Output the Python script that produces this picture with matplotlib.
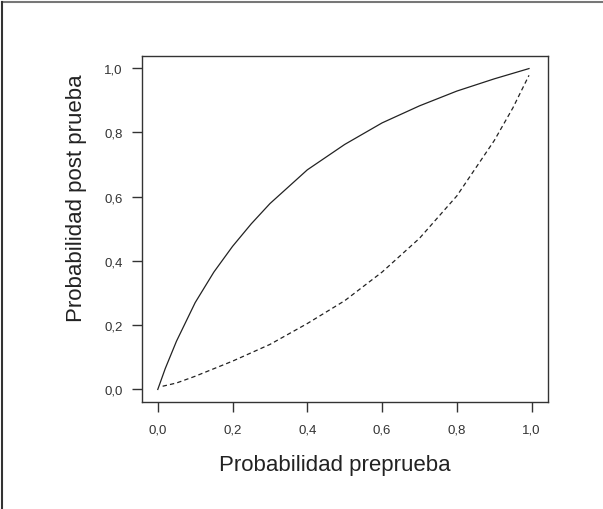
import matplotlib
matplotlib.use("Agg")
import matplotlib.pyplot as plt
from matplotlib.lines import Line2D

plt.rcParams['font.family'] = ['Liberation Sans Narrow', 'Liberation Sans', 'DejaVu Sans']

# curva para prueba positiva (línea continua)
pre_pos = [0.0, 0.02, 0.05, 0.10, 0.15, 0.20, 0.25, 0.30, 0.40, 0.50, 0.60, 0.70, 0.80, 0.90, 0.993]
post_pos = [0.0, 0.065, 0.15, 0.27, 0.365, 0.445, 0.515, 0.578, 0.683, 0.762, 0.829, 0.882, 0.928, 0.966, 0.998]

# curva para prueba negativa (línea discontinua)
pre_neg = [0.013, 0.05, 0.10, 0.20, 0.30, 0.40, 0.50, 0.60, 0.70, 0.80, 0.90, 0.95, 0.993]
post_neg = [0.01, 0.02, 0.041, 0.088, 0.14, 0.205, 0.276, 0.365, 0.47, 0.602, 0.774, 0.876, 0.977]

ticks = [0.0, 0.2, 0.4, 0.6, 0.8, 1.0]
tick_labels = ['0,0', '0,2', '0,4', '0,6', '0,8', '1,0']

W, H = 603, 510
fig = plt.figure(figsize=(W / 100, H / 100), dpi=100)
L, R, T, B = 141.7, 547.7, 56.7, 403.3
ax = fig.add_axes([L / W, 1 - B / H, (R - L) / W, (B - T) / H])

ax.plot(pre_pos, post_pos, color='#222222', lw=0.9)
ax.plot(pre_neg, post_neg, color='#222222', lw=0.9, linestyle=(0, (3.5, 2.5)))

ax.set_xlim(-0.043, 1.043)
ax.set_ylim(-0.040, 1.038)
ax.set_xticks(ticks)
ax.set_xticklabels(tick_labels)
ax.set_yticks(ticks)
ax.set_yticklabels(tick_labels)
ax.tick_params(direction='out', length=7.5, width=1.0, colors='#333333',
               labelcolor='#333333', labelsize=9.5)
ax.tick_params(axis='x', pad=8)
ax.tick_params(axis='y', pad=6)
for s in ax.spines.values():
    s.set_color('#333333')
    s.set_linewidth(1.0)

ax.set_xlabel('Probabilidad preprueba', fontsize=16, color='#222222')
ax.set_ylabel('Probabilidad post prueba', fontsize=16, color='#222222')
ax.xaxis.set_label_coords((335 - L) / (R - L), -(455 - B) / (B - T))
ax.yaxis.set_label_coords(-(L - 87) / (R - L), (B - 198) / (B - T))

# marco exterior (solo arriba e izquierda)
fig.add_artist(Line2D([2 / W, 1], [1 - 2.5 / H, 1 - 2.5 / H], color='#777777', lw=1.5))
fig.add_artist(Line2D([2.2 / W, 2.2 / W], [0, 1 - 2.5 / H], color='#333333', lw=1.5))

fig.savefig('out.png', dpi=100, facecolor='white')
